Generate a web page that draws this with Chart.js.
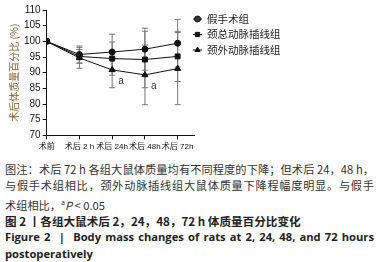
<!DOCTYPE html>
<html>
<head>
<meta charset="utf-8">
<script src="https://cdn.jsdelivr.net/npm/chart.js@4"></script>
<style>
  body { margin: 0; background: #fff; width: 378px; height: 262px; overflow: hidden; }
  #wrap { position: absolute; left: 0; top: 0; width: 378px; height: 155px; }
  #cap { position: absolute; left: 5px; top: 161px; width: 369px;
         font-family: "Noto Sans CJK SC", "Liberation Sans", sans-serif; font-size: 11.6px; line-height: 16.4px; }
  .note { color: #333; text-align: justify; text-align-last: justify; font-size: 11.2px; white-space: nowrap; }
  .last { text-align-last: left; }
  .ttl { color: #222; font-weight: bold; }
  .en { font-family: "Open Sans", "Noto Sans", sans-serif; font-weight: bold; font-size: 11.2px;
        text-align: justify; text-align-last: left; }
</style>
</head>
<body>
<div id="wrap"><canvas id="plot"></canvas></div>
<div id="cap">
  <div class="note">图注：术后 72 h 各组大鼠体质量均有不同程度的下降；但术后 24，48 h，</div>
  <div class="note">与假手术组相比，颈外动脉插线组大鼠体质量下降程幅度明显。与假手</div>
  <div class="note last">术组相比，<sup style="font-size:7px">a</sup><i>P</i> &lt; 0.05</div>
  <div class="ttl">图 2 丨各组大鼠术后 2，24，48，72 h 体质量百分比变化</div>
  <div class="ttl en">Figure 2 &nbsp;| &nbsp;Body mass changes of rats at 2, 24, 48, and 72 hours postoperatively</div>
</div>
<script>
// categorias del eje x
let etiquetas = ["术前", "术后 2 h", "术后 24h", "术后 48h", "术后 72h"];

// medias de cada grupo (%)
let shamMedia = [100, 95.8, 96.6, 97.5, 99.4];
let comunMedia = [100, 95.2, 94.5, 94.2, 95.2];
let externaMedia = [100, 94.7, 90.9, 89.3, 91.3];

// desviaciones
let shamDE = [0, 2.7, 5.7, 6.7, 7.6];
let comunDE = [0, 2.2, 5.3, 9.0, 8.0];
let externaDE = [0, 3.3, 5.7, 9.5, 11.5];

// marcas de significancia sobre el grupo externo
let marcas = ["", "", "a", "a", ""];

let nombres = ["假手术组", "颈总动脉插线组", "颈外动脉插线组"];
let estilos = ["circle", "rect", "triangle"];

let aPuntos = (arr) => arr.map((v, i) => ({ x: i, y: v }));

let fuente = '"Liberation Sans", "Noto Sans CJK SC", sans-serif';

// barras de error
let barrasError = {
  id: "barrasError",
  beforeDatasetsDraw(chart) {
    let ctx = chart.ctx;
    let xS = chart.scales.x;
    let yS = chart.scales.y;
    let desv = [shamDE, comunDE, externaDE];
    ctx.save();
    ctx.strokeStyle = "#777";
    ctx.lineWidth = 1;
    chart.data.datasets.forEach((ds, k) => {
      ds.data.forEach((p, i) => {
        let d = desv[k][i];
        if (!d) return;
        let x = xS.getPixelForValue(p.x);
        let y1 = yS.getPixelForValue(p.y + d);
        let y2 = yS.getPixelForValue(p.y - d);
        ctx.beginPath();
        ctx.moveTo(x, y1); ctx.lineTo(x, y2);
        ctx.moveTo(x - 3, y1); ctx.lineTo(x + 3, y1);
        ctx.moveTo(x - 3, y2); ctx.lineTo(x + 3, y2);
        ctx.stroke();
      });
    });
    ctx.restore();
  },
  afterDatasetsDraw(chart) {
    let ctx = chart.ctx;
    let xS = chart.scales.x;
    let yS = chart.scales.y;
    ctx.save();
    ctx.fillStyle = "#333";
    ctx.font = "10px " + fuente;
    marcas.forEach((m, i) => {
      if (!m) return;
      let x = xS.getPixelForValue(i);
      let y = yS.getPixelForValue(externaMedia[i]);
      ctx.fillText(m, x + 6, y + 14);
    });
    // leyenda propia
    let lx = 193, ly = 19;
    ctx.font = '10.5px "Noto Sans CJK SC", sans-serif';
    ctx.textBaseline = "middle";
    nombres.forEach((n, k) => {
      let y = ly + k * 15.5;
      ctx.strokeStyle = "#111";
      ctx.beginPath(); ctx.moveTo(lx, y); ctx.lineTo(lx + 9, y); ctx.stroke();
      Chart.helpers.drawPoint(ctx, { pointStyle: estilos[k], radius: 3, borderWidth: 1 }, lx + 4.5, y);
      ctx.fillStyle = "#222";
      ctx.fillText(n, lx + 14, y);
      ctx.fillStyle = "#111";
    });
    ctx.restore();
  }
};

let hacerSerie = (datos, estilo, radio) => ({
  data: aPuntos(datos),
  borderColor: "#111",
  backgroundColor: "#111",
  borderWidth: 1,
  pointStyle: estilo,
  pointRadius: radio,
  pointBackgroundColor: "#111",
  pointBorderColor: "#111",
  tension: 0,
});

let config = {
  type: "line",
  data: {
    datasets: [
      hacerSerie(shamMedia, "circle", 3),
      hacerSerie(comunMedia, "rect", 3.5),
      hacerSerie(externaMedia, "triangle", 3.5),
    ],
  },
  options: {
    responsive: true,
    maintainAspectRatio: false,
    animation: false,
    layout: { padding: { top: 10, right: 184, left: 6, bottom: 0 } },
    plugins: { legend: { display: false }, tooltip: { enabled: false } },
    scales: {
      x: {
        type: "linear",
        min: 0,
        max: 4.5,
        afterBuildTicks: (axis) => { axis.ticks = etiquetas.map((e, i) => ({ value: i })); },
        ticks: {
          callback: (v) => etiquetas[v],
          color: "#111",
          font: { family: fuente, size: 8 },
          maxRotation: 0,
          autoSkip: false,
          padding: 3,
        },
        grid: { drawOnChartArea: false, tickLength: 4, color: "#111" },
        border: { color: "#111", width: 1 },
      },
      y: {
        min: 70,
        max: 110,
        ticks: { stepSize: 5, color: "#111", font: { family: fuente, size: 10 }, padding: 2 },
        grid: { drawOnChartArea: false, tickLength: 4, color: "#111" },
        border: { color: "#111", width: 1 },
        title: {
          display: true,
          text: "术后体质量百分比 (%)",
          color: "#8a5a2b",
          font: { family: '"Noto Sans CJK SC", sans-serif', size: 10 },
          padding: 2,
        },
      },
    },
  },
  plugins: [barrasError],
};

new Chart(document.getElementById("plot"), config);
</script>
</body>
</html>
